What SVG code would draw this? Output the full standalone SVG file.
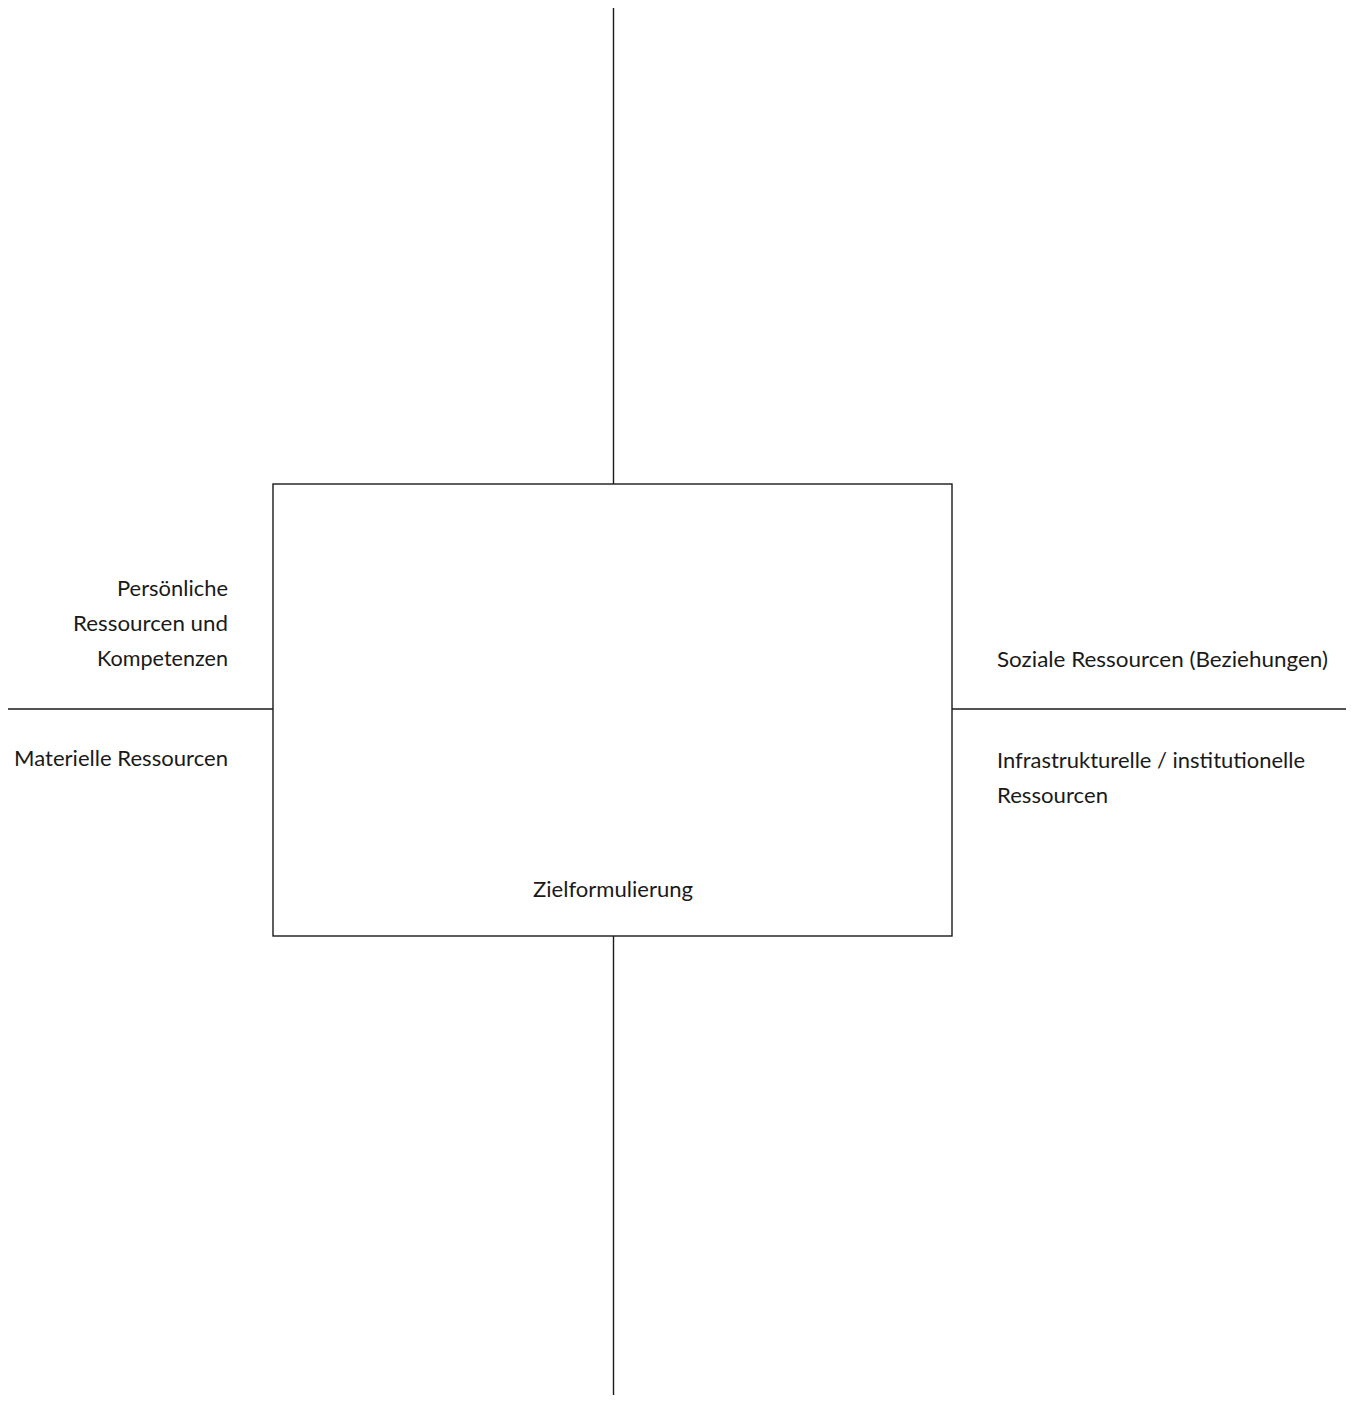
<svg xmlns="http://www.w3.org/2000/svg" width="1357" height="1403" viewBox="0 0 1357 1403">
<style>
  .ln { stroke: #1a1a1a; stroke-width: 1.4; fill: none; }
  .box { stroke: #1a1a1a; stroke-width: 1.4; fill: #ffffff; }
  .t { font-family: Lato, "Liberation Sans", sans-serif; font-size: 22px; fill: #1a1a1a; }
  .r { text-anchor: end; }
</style>
<rect width="1357" height="1403" fill="#ffffff"/>
<g id="connectors">
  <line class="ln" x1="613.5" y1="8" x2="613.5" y2="484"/>
  <line class="ln" x1="613.5" y1="936" x2="613.5" y2="1395"/>
  <line class="ln" x1="8" y1="709" x2="273" y2="709"/>
  <line class="ln" x1="952" y1="709" x2="1346" y2="709"/>
</g>
<g id="center-box">
  <rect class="box" x="273" y="484" width="679" height="452"/>
  <text class="t" x="533" y="897" textLength="160" lengthAdjust="spacingAndGlyphs">Zielformulierung</text>
</g>
<g id="persoenliche">
  <text class="t" x="117" y="596" textLength="111" lengthAdjust="spacingAndGlyphs">Persönliche</text>
  <text class="t" x="73" y="631" textLength="155" lengthAdjust="spacingAndGlyphs">Ressourcen und</text>
  <text class="t" x="97" y="666" textLength="131" lengthAdjust="spacingAndGlyphs">Kompetenzen</text>
</g>
<g id="materielle">
  <text class="t" x="14" y="766" textLength="214" lengthAdjust="spacingAndGlyphs">Materielle Ressourcen</text>
</g>
<g id="soziale">
  <text class="t" x="997" y="667" textLength="331" lengthAdjust="spacingAndGlyphs">Soziale Ressourcen (Beziehungen)</text>
</g>
<g id="infrastrukturelle">
  <text class="t" x="997" y="768" textLength="308" lengthAdjust="spacingAndGlyphs">Infrastrukturelle / institutionelle</text>
  <text class="t" x="997" y="803" textLength="111" lengthAdjust="spacingAndGlyphs">Ressourcen</text>
</g>
</svg>
